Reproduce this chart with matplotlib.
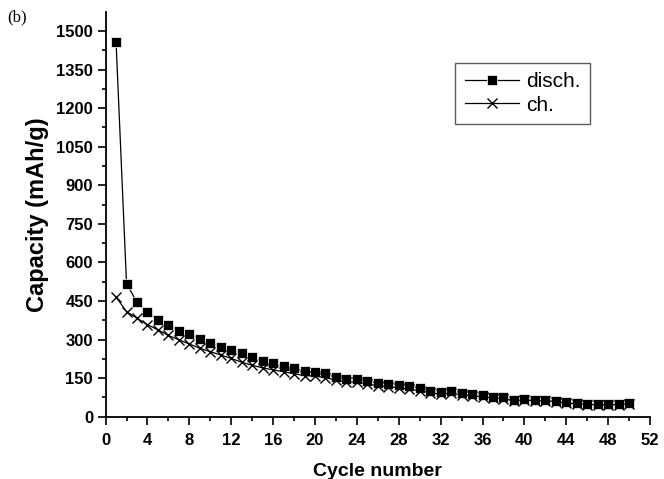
import matplotlib
matplotlib.use('Agg')
import matplotlib.pyplot as plt
from matplotlib.ticker import MultipleLocator

# cycle data
cycles = list(range(1, 51))
disch = [1458, 518, 445, 406, 378, 355, 335, 320, 303, 287,
         270, 260, 246, 231, 218, 208, 199, 188, 177, 175,
         169, 156, 147, 147, 138, 132, 128, 125, 118, 112,
         101, 95, 99, 91, 88, 83, 78, 75, 66, 70,
         66, 66, 62, 56, 52, 49, 49, 49, 49, 53]
ch = [465, 409, 383, 358, 338, 316, 299, 283, 266, 253,
      240, 227, 212, 200, 190, 182, 175, 167, 160, 158,
      152, 142, 135, 135, 127, 121, 117, 113, 107, 102,
      93, 88, 92, 85, 82, 77, 73, 70, 62, 66,
      62, 62, 59, 53, 50, 47, 47, 47, 47, 51]
y_ticks = [0, 150, 300, 450, 600, 750, 900, 1050, 1200, 1350, 1500]
x_ticks = list(range(0, 53, 4))

plt.rcParams['font.family'] = ['Liberation Sans', 'DejaVu Sans']

fig = plt.figure(figsize=(6.64, 4.79), dpi=100)
ax = fig.add_axes([0.159, 0.13, 0.82, 0.845])

ax.plot(cycles, disch, color='black', lw=0.9, marker='s', ms=6.5,
        mfc='black', mec='white', mew=0.5, label='disch.')
ax.plot(cycles, ch, color='black', lw=0.9, marker='x', ms=7,
        mew=1.0, label='ch.')

ax.set_xlim(0, 52)
ax.set_ylim(0, 1574)
ax.set_xticks(x_ticks)
ax.set_yticks(y_ticks)
ax.xaxis.set_minor_locator(MultipleLocator(2))
ax.yaxis.set_minor_locator(MultipleLocator(75))
ax.tick_params(which='major', direction='out', length=5.5, width=1.2, labelsize=12)
ax.tick_params(which='minor', direction='out', length=3, width=1.2)
ax.tick_params(axis='x', which='major', pad=6)
for lab in ax.get_xticklabels() + ax.get_yticklabels():
    lab.set_fontweight('bold')

for side in ['top', 'right']:
    ax.spines[side].set_visible(False)
for side in ['left', 'bottom']:
    ax.spines[side].set_linewidth(1.3)

ax.set_xlabel('Cycle number', fontsize=14, fontweight='bold', labelpad=11)
ax.set_ylabel('Capacity (mAh/g)', fontsize=17, fontweight='bold', labelpad=5)

leg = ax.legend(loc='upper left', bbox_to_anchor=(0.642, 0.874), fontsize=15,
                frameon=True, fancybox=False, edgecolor='#333333',
                handlelength=2.6, borderpad=0.45, labelspacing=0.2,
                handletextpad=0.35, borderaxespad=0)
leg.get_frame().set_linewidth(1.0)

fig.text(0.011, 0.955, '(b)', fontsize=12, family='Liberation Serif')

fig.savefig('out.png', dpi=100)
